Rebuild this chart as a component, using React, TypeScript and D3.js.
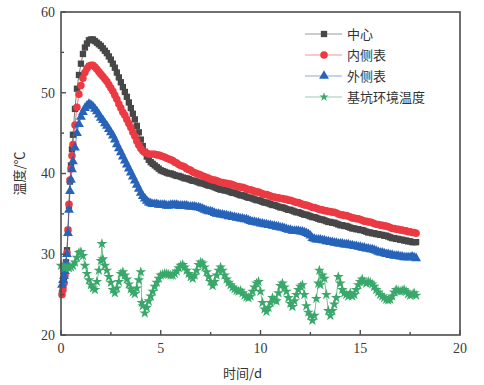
import React from 'react'
import * as d3 from 'd3'

// sampling times (d) shared by the three concrete measuring points
const tMain = [
  0.05, 0.1, 0.15, 0.2, 0.25, 0.3, 0.35, 0.4, 0.45, 0.5, 0.55, 0.6,
  0.7, 0.8, 0.9, 1.0, 1.1, 1.2, 1.3, 1.4, 1.5, 1.6, 1.7, 1.8, 1.9, 2.0,
  2.1, 2.2, 2.3, 2.4, 2.5, 2.6, 2.7, 2.8, 2.9,
  3.0, 3.1, 3.2, 3.3, 3.4, 3.5, 3.6, 3.7, 3.8, 3.9,
  4.0, 4.1, 4.2, 4.3, 4.4, 4.5, 4.6, 4.7, 4.8, 4.9,
  5.0, 5.1, 5.2, 5.3, 5.4, 5.5, 5.6, 5.7, 5.8, 5.9,
  6.0, 6.1, 6.2, 6.3, 6.4, 6.5, 6.6, 6.7, 6.8, 6.9,
  7.0, 7.1, 7.2, 7.3, 7.4, 7.5, 7.6, 7.7, 7.8, 7.9,
  8.0, 8.1, 8.2, 8.3, 8.4, 8.5, 8.6, 8.7, 8.8, 8.9,
  9.0, 9.1, 9.2, 9.3, 9.4, 9.5, 9.6, 9.7, 9.8, 9.9,
  10.0, 10.1, 10.2, 10.3, 10.4, 10.5, 10.6, 10.7, 10.8, 10.9,
  11.0, 11.1, 11.2, 11.3, 11.4, 11.5, 11.6, 11.7, 11.8, 11.9,
  12.0, 12.1, 12.2, 12.3, 12.4, 12.5, 12.6, 12.7, 12.8, 12.9,
  13.0, 13.1, 13.2, 13.3, 13.4, 13.5, 13.6, 13.7, 13.8, 13.9,
  14.0, 14.1, 14.2, 14.3, 14.4, 14.5, 14.6, 14.7, 14.8, 14.9,
  15.0, 15.1, 15.2, 15.3, 15.4, 15.5, 15.6, 15.7, 15.8, 15.9,
  16.0, 16.1, 16.2, 16.3, 16.4, 16.5, 16.6, 16.7, 16.8, 16.9,
  17.0, 17.1, 17.2, 17.3, 17.4, 17.5, 17.6, 17.7, 17.8
]

// 中心
const centerTemp = [
  25.2, 26.0, 26.8, 27.8, 29.0, 30.5, 33.0, 36.0, 39.0, 41.0, 43.0, 44.8,
  48.0, 50.5, 52.2, 53.6, 54.8, 55.6, 56.1, 56.5, 56.6, 56.6, 56.4, 56.2, 56.0, 55.8,
  55.5, 55.2, 54.9, 54.5, 54.1, 53.6, 53.1, 52.5, 51.9,
  51.3, 50.7, 50.1, 49.5, 48.8, 48.1, 47.4, 46.7, 45.9, 45.1,
  44.2, 43.4, 42.7, 42.1, 41.7, 41.4, 41.2, 41.0, 40.8, 40.6,
  40.4, 40.3, 40.2, 40.1, 40.0, 40.0, 39.9, 39.8, 39.7, 39.7,
  39.6, 39.5, 39.4, 39.4, 39.3, 39.2, 39.1, 39.1, 39.0, 38.9,
  38.8, 38.8, 38.7, 38.6, 38.5, 38.5, 38.4, 38.3, 38.2, 38.1,
  38.0, 38.0, 37.9, 37.9, 37.8, 37.7, 37.6, 37.6, 37.5, 37.4,
  37.3, 37.3, 37.2, 37.1, 37.0, 37.0, 36.9, 36.8, 36.7, 36.7,
  36.6, 36.5, 36.4, 36.4, 36.3, 36.2, 36.1, 36.1, 36.0, 35.9,
  35.8, 35.8, 35.7, 35.6, 35.5, 35.5, 35.4, 35.3, 35.2, 35.2,
  35.1, 35.0, 34.9, 34.9, 34.8, 34.7, 34.6, 34.6, 34.5, 34.4,
  34.3, 34.3, 34.2, 34.1, 34.0, 34.0, 33.9, 33.9, 33.8, 33.7,
  33.6, 33.6, 33.5, 33.5, 33.4, 33.3, 33.2, 33.2, 33.1, 33.1,
  33.0, 33.0, 32.9, 32.8, 32.7, 32.7, 32.6, 32.6, 32.5, 32.5,
  32.4, 32.4, 32.3, 32.3, 32.2, 32.1, 32.0, 32.0, 31.9, 31.9,
  31.8, 31.8, 31.7, 31.7, 31.6, 31.6, 31.5, 31.5, 31.5
]

// 内侧表
const innerTemp = [
  25.0, 25.6, 26.4, 27.4, 28.8, 30.2, 33.0, 36.2, 39.2, 40.6, 42.2, 43.6,
  46.0, 48.2, 49.8, 50.9, 51.8, 52.5, 53.0, 53.3, 53.4, 53.4, 53.2, 52.9, 52.6, 52.3,
  52.0, 51.7, 51.4, 51.0, 50.6, 50.2, 49.7, 49.2, 48.6,
  48.1, 47.6, 47.2, 46.7, 46.2, 45.7, 45.1, 44.6, 44.0, 43.5,
  43.1, 42.8, 42.6, 42.5, 42.4, 42.4, 42.4, 42.4, 42.3, 42.3,
  42.2, 42.1, 42.0, 41.9, 41.8, 41.7, 41.6, 41.4, 41.3, 41.1,
  41.0, 40.9, 40.8, 40.6, 40.5, 40.4, 40.2, 40.1, 40.0, 39.9,
  39.8, 39.7, 39.6, 39.5, 39.4, 39.3, 39.2, 39.2, 39.1, 39.0,
  38.9, 38.9, 38.8, 38.8, 38.7, 38.7, 38.6, 38.5, 38.4, 38.4,
  38.3, 38.3, 38.2, 38.1, 38.0, 38.0, 37.9, 37.8, 37.7, 37.7,
  37.6, 37.5, 37.4, 37.4, 37.3, 37.2, 37.1, 37.1, 37.0, 37.0,
  36.9, 36.9, 36.8, 36.8, 36.7, 36.7, 36.6, 36.5, 36.4, 36.4,
  36.3, 36.2, 36.1, 36.1, 36.0, 35.9, 35.8, 35.8, 35.7, 35.6,
  35.5, 35.5, 35.4, 35.4, 35.3, 35.3, 35.2, 35.2, 35.1, 35.0,
  34.9, 34.9, 34.8, 34.8, 34.7, 34.6, 34.5, 34.5, 34.4, 34.4,
  34.3, 34.2, 34.1, 34.1, 34.0, 34.0, 33.9, 33.8, 33.7, 33.7,
  33.6, 33.6, 33.5, 33.5, 33.4, 33.3, 33.2, 33.2, 33.1, 33.1,
  33.0, 33.0, 32.9, 32.9, 32.8, 32.8, 32.7, 32.7, 32.6
]

// 外侧表
const outerTemp = [
  26.2, 26.8, 27.3, 27.9, 28.9, 30.0, 32.6, 35.5, 37.8, 39.2, 40.5, 41.5,
  43.2, 45.0, 46.1, 47.0, 47.6, 48.1, 48.4, 48.6, 48.5, 48.3, 48.0, 47.7, 47.3, 46.9,
  46.6, 46.2, 45.9, 45.5, 45.1, 44.7, 44.2, 43.6, 43.1,
  42.6, 42.1, 41.6, 41.1, 40.6, 40.1, 39.6, 39.1, 38.6, 38.1,
  37.6, 37.2, 36.9, 36.6, 36.4, 36.3, 36.2, 36.2, 36.2, 36.1,
  36.1, 36.1, 36.1, 36.0, 36.0, 36.1, 36.1, 36.1, 36.1, 36.0,
  36.0, 36.0, 36.0, 36.0, 35.9, 35.9, 35.9, 35.9, 35.8, 35.8,
  35.7, 35.6, 35.5, 35.4, 35.3, 35.3, 35.2, 35.1, 35.0, 35.0,
  34.9, 34.9, 34.8, 34.8, 34.7, 34.7, 34.6, 34.6, 34.5, 34.5,
  34.4, 34.4, 34.3, 34.3, 34.2, 34.1, 34.0, 34.0, 33.9, 33.9,
  33.8, 33.8, 33.7, 33.7, 33.6, 33.6, 33.5, 33.5, 33.4, 33.4,
  33.3, 33.3, 33.2, 33.1, 33.0, 33.0, 32.9, 32.9, 32.9, 32.9,
  32.8, 32.8, 32.7, 32.6, 32.5, 32.3, 32.0, 31.9, 31.8, 31.8,
  31.8, 31.7, 31.7, 31.6, 31.6, 31.5, 31.5, 31.4, 31.4, 31.3,
  31.3, 31.3, 31.2, 31.2, 31.2, 31.1, 31.1, 31.0, 31.0, 30.9,
  30.9, 30.8, 30.8, 30.7, 30.7, 30.6, 30.6, 30.5, 30.4, 30.3,
  30.2, 30.2, 30.1, 30.0, 30.0, 29.9, 29.9, 29.8, 29.8, 29.8,
  29.7, 29.7, 29.6, 29.6, 29.6, 29.6, 29.7, 29.6, 29.5
]

// [time d, temperature ℃] of the pit ambient air
const ambientReadings: [number, number][] = [
  [0.0, 28.6], [0.1, 28.4], [0.2, 28.3], [0.3, 28.4], [0.4, 28.3], [0.5, 28.4],
  [0.6, 28.6], [0.7, 29.0], [0.8, 29.6], [0.9, 30.2], [1.0, 30.3], [1.1, 29.8],
  [1.2, 28.6], [1.3, 27.6], [1.4, 26.8], [1.5, 26.2], [1.6, 25.8], [1.7, 25.6],
  [1.8, 26.6], [1.9, 28.0], [2.0, 29.2], [2.05, 31.3], [2.1, 29.4], [2.2, 28.6],
  [2.3, 28.0], [2.4, 27.2], [2.5, 26.5], [2.6, 25.6], [2.7, 25.2], [2.8, 25.8],
  [2.9, 26.6], [3.0, 27.6], [3.1, 27.8], [3.2, 27.4], [3.3, 26.9], [3.4, 26.3],
  [3.5, 25.7], [3.6, 25.3], [3.7, 25.1], [3.8, 25.8], [3.9, 26.8], [4.0, 27.8],
  [4.05, 24.0], [4.1, 23.6], [4.2, 22.7], [4.3, 23.4], [4.4, 24.2], [4.5, 24.8],
  [4.6, 25.4], [4.7, 26.0], [4.8, 26.5], [4.9, 27.0], [5.0, 27.4], [5.1, 27.5],
  [5.2, 27.6], [5.3, 27.6], [5.4, 27.5], [5.5, 27.4], [5.6, 27.4], [5.7, 27.6],
  [5.8, 27.9], [5.9, 28.3], [6.0, 28.6], [6.1, 28.7], [6.2, 28.4],
  [6.3, 28.0], [6.4, 27.6], [6.5, 27.2], [6.6, 27.0], [6.7, 27.4], [6.8, 28.0],
  [6.9, 28.7], [7.0, 29.0], [7.1, 28.9], [7.2, 28.4], [7.3, 27.8], [7.4, 27.2],
  [7.5, 26.6], [7.6, 26.1], [7.7, 26.6], [7.8, 27.4], [7.9, 28.0], [8.0, 28.4],
  [8.1, 28.0], [8.2, 27.4], [8.3, 26.9], [8.4, 26.5], [8.5, 26.2], [8.6, 25.9],
  [8.7, 25.7], [8.8, 25.5], [8.9, 25.4], [9.0, 25.5], [9.1, 25.2], [9.2, 24.9],
  [9.3, 24.7], [9.4, 24.6], [9.5, 24.8], [9.6, 25.4], [9.7, 25.9], [9.8, 26.4],
  [9.9, 26.6], [10.0, 25.4], [10.1, 24.0], [10.2, 23.2], [10.3, 22.9], [10.4, 23.4],
  [10.5, 24.0], [10.6, 24.6], [10.7, 24.3], [10.8, 24.2], [10.9, 25.2], [11.0, 26.1],
  [11.1, 26.4], [11.2, 25.9], [11.3, 25.4], [11.4, 24.6], [11.5, 23.9], [11.6, 23.5],
  [11.7, 24.2], [11.8, 25.0], [11.9, 25.6], [12.0, 26.0], [12.1, 26.2], [12.2, 25.0],
  [12.3, 23.6], [12.4, 22.8], [12.5, 22.4], [12.6, 21.8], [12.7, 22.4], [12.8, 24.5],
  [12.9, 26.4], [12.95, 28.0], [13.0, 26.2], [13.1, 27.4], [13.2, 27.0], [13.3, 25.0],
  [13.4, 23.0], [13.5, 22.4], [13.6, 23.0], [13.7, 23.8], [13.8, 24.6], [13.9, 27.2],
  [14.0, 26.4], [14.1, 25.6], [14.2, 25.2], [14.3, 25.0], [14.4, 24.8], [14.5, 25.2],
  [14.6, 24.8], [14.7, 25.0], [14.8, 25.6], [14.9, 26.2], [15.0, 26.6], [15.1, 26.9],
  [15.2, 26.6], [15.3, 26.4], [15.4, 26.6], [15.5, 26.5], [15.6, 26.3], [15.7, 26.0],
  [15.8, 25.6], [15.9, 25.3], [16.0, 25.0], [16.1, 24.8], [16.2, 24.6], [16.3, 24.4],
  [16.4, 24.3], [16.5, 24.4], [16.6, 24.8], [16.7, 25.3], [16.8, 25.6], [16.9, 25.5],
  [17.0, 25.4], [17.1, 25.5], [17.2, 25.6], [17.3, 25.4], [17.4, 25.1], [17.5, 24.9],
  [17.6, 25.0], [17.7, 25.2], [17.8, 24.9]
]

const xTicks = [0, 5, 10, 15, 20]
const xMinor = [2.5, 7.5, 12.5, 17.5]
const yTicks = [20, 30, 40, 50, 60]
const yMinor = [25, 35, 45, 55]

const seriesNames = ['中心', '内侧表', '外侧表', '基坑环境温度']

const W = 484
const H = 385
const margin = { top: 12, right: 24, bottom: 50, left: 61 }
const serif = '"Liberation Serif", "DejaVu Serif", serif'
const cjk = '"Noto Sans CJK SC", sans-serif'

export default function App() {
  const x = d3.scaleLinear().domain([0, 20]).range([margin.left, W - margin.right])
  const y = d3.scaleLinear().domain([20, 60]).range([H - margin.bottom, margin.top])

  const n = tMain.length
  const toPts = (vals: number[]): [number, number][] =>
    vals.slice(0, n).map((v, i) => [tMain[i], v] as [number, number])

  const series = [
    { name: seriesNames[0], pts: toPts(centerTemp), color: '#474747', symbol: d3.symbolSquare, size: 40, legendSize: 40 },
    { name: seriesNames[1], pts: toPts(innerTemp), color: '#ec3a43', symbol: d3.symbolCircle, size: 44, legendSize: 44 },
    { name: seriesNames[2], pts: toPts(outerTemp), color: '#2764b9', symbol: d3.symbolTriangle, size: 42, legendSize: 42 },
    { name: seriesNames[3], pts: ambientReadings, color: '#3aa86b', symbol: d3.symbolStar, size: 36, legendSize: 26 }
  ]

  const line = d3.line<[number, number]>().x(d => x(d[0])).y(d => y(d[1]))

  const x0 = margin.left
  const x1 = W - margin.right
  const y0 = H - margin.bottom
  const y1 = margin.top
  const axisColor = '#4d4d4d'

  return (
    <svg width={W} height={H} style={{ position: 'absolute', left: 0, top: 0, background: '#fff' }}>
      {/* series, drawn in legend order so later ones sit on top */}
      {series.map(s => {
        const sym = d3.symbol(s.symbol, s.size)()!
        return (
          <g key={s.name}>
            <path d={line(s.pts)!} fill="none" stroke={s.color} strokeWidth={1} strokeOpacity={0.7} />
            {s.pts.map((d, i) => (
              <path key={i} d={sym} transform={`translate(${x(d[0])},${y(d[1])})`} fill={s.color} />
            ))}
          </g>
        )
      })}

      {/* frame */}
      <rect x={x0} y={y1} width={x1 - x0} height={y0 - y1} fill="none" stroke={axisColor} strokeWidth={1.6} />

      {/* x axis ticks */}
      {xTicks.map(t => (
        <g key={'xt' + t}>
          <line x1={x(t)} x2={x(t)} y1={y0} y2={y0 - 5} stroke={axisColor} strokeWidth={1.4} />
          <text x={x(t)} y={y0 + 18} textAnchor="middle" fontFamily={serif} fontSize={14} fill="#3a3a3a">{t}</text>
        </g>
      ))}
      {xMinor.map(t => (
        <line key={'xm' + t} x1={x(t)} x2={x(t)} y1={y0} y2={y0 - 3} stroke={axisColor} strokeWidth={1.4} />
      ))}

      {/* y axis ticks */}
      {yTicks.map(t => (
        <g key={'yt' + t}>
          <line x1={x0} x2={x0 + 5} y1={y(t)} y2={y(t)} stroke={axisColor} strokeWidth={1.4} />
          <text x={x0 - 6} y={y(t)} dy="0.35em" textAnchor="end" fontFamily={serif} fontSize={14} fill="#3a3a3a">{t}</text>
        </g>
      ))}
      {yMinor.map(t => (
        <line key={'ym' + t} x1={x0} x2={x0 + 3} y1={y(t)} y2={y(t)} stroke={axisColor} strokeWidth={1.4} />
      ))}

      {/* axis titles */}
      <text x={(x0 + x1) / 2 - 18} y={378} textAnchor="middle" fontFamily={cjk} fontSize={13} fill="#333">
        时间/d
      </text>
      <text transform={`translate(24,${(y0 + y1) / 2}) rotate(-90)`} textAnchor="middle" fontFamily={cjk} fontSize={13} fill="#333">
        温度/℃
      </text>

      {/* legend */}
      {series.map((s, i) => {
        const ly = 34 + i * 21
        const sym = d3.symbol(s.symbol, s.legendSize)()!
        return (
          <g key={'lg' + s.name}>
            <line x1={305} x2={342} y1={ly} y2={ly} stroke={s.color} strokeWidth={1} strokeOpacity={0.55} />
            <path d={sym} transform={`translate(324,${ly})`} fill={s.color} />
            <text x={347} y={ly} dy="0.36em" fontFamily={cjk} fontSize={13} fill="#333">{s.name}</text>
          </g>
        )
      })}
    </svg>
  )
}
